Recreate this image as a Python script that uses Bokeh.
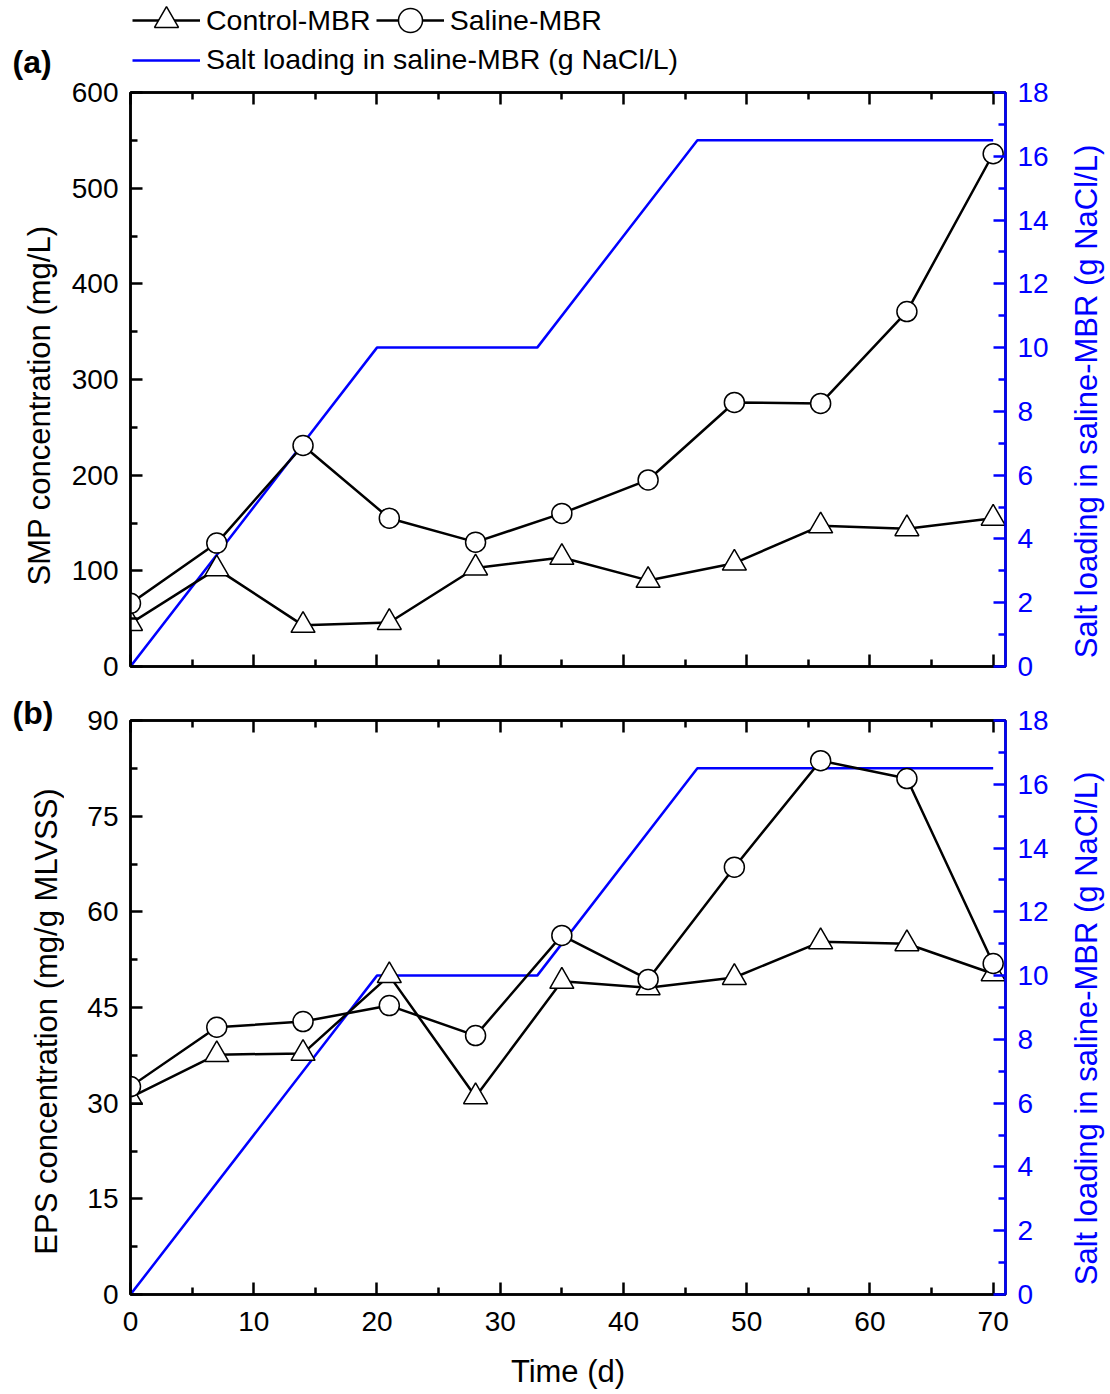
import math
from bokeh.plotting import figure
from bokeh.models import Range1d, LinearAxis, Legend, LegendItem, FixedTicker
from bokeh.layouts import column, row
from bokeh.core.properties import value
from bokeh.embed import file_html
from bokeh.resources import INLINE

# ---- data ----
days = [0, 7, 14, 21, 28, 35, 42, 49, 56, 63, 70]
smp_control = [45, 102, 43, 46, 103, 114, 90, 108, 147, 144, 155]
smp_saline = [66, 129, 231, 155, 130, 160, 195, 276, 275, 371, 536]
eps_control = [30.9, 37.6, 37.8, 50.0, 31.0, 49.1, 48.1, 49.7, 55.3, 55.0, 50.3]
eps_saline = [32.6, 41.9, 42.8, 45.3, 40.6, 56.3, 49.4, 67.0, 83.7, 80.9, 51.9]
salt_days = [0, 20, 33, 46, 70]
salt_load = [0, 10, 10, 16.5, 16.5]

x_ticks = [0, 10, 20, 30, 40, 50, 60, 70]
x_minor = [5, 15, 25, 35, 45, 55, 65]
smp_ticks = [0, 100, 200, 300, 400, 500, 600]
smp_minor = [50, 150, 250, 350, 450, 550]
eps_ticks = [0, 15, 30, 45, 60, 75, 90]
eps_minor = [7.5, 22.5, 37.5, 52.5, 67.5, 82.5]
salt_ticks = [0, 2, 4, 6, 8, 10, 12, 14, 16, 18]
salt_minor = [1, 3, 5, 7, 9, 11, 13, 15, 17]

label_smp = "SMP concentration (mg/L)"
label_eps = "EPS concentration (mg/g MLVSS)"
label_salt = "Salt loading in saline-MBR (g NaCl/L)"
label_time = "Time (d)"
names = ["Control-MBR", "Saline-MBR"]

FONT = "Liberation Sans"
BLUE = "#0000FF"
LW = 2.5
TICK_FS = "28px"
LABEL_FS = "31px"
NAN = [float("nan")]


def bare(width, height, xr, yr):
    f = figure(width=width, height=height, output_backend="svg", toolbar_location=None,
               x_range=Range1d(*xr), y_range=Range1d(*yr),
               min_border_left=0, min_border_right=0, min_border_top=0, min_border_bottom=0,
               x_axis_location=None, y_axis_location=None)
    f.grid.visible = False
    f.outline_line_color = None
    f.background_fill_color = "white"
    f.border_fill_color = "white"
    return f


def style_axis(ax, color="black", labels=True):
    ax.axis_line_color = color
    ax.axis_line_width = LW
    ax.major_tick_line_color = color
    ax.major_tick_line_width = LW
    ax.minor_tick_line_color = color
    ax.minor_tick_line_width = LW
    ax.major_tick_in = 12
    ax.major_tick_out = 0
    ax.minor_tick_in = 7
    ax.minor_tick_out = 0
    ax.major_label_text_font = FONT
    ax.axis_label_text_font = FONT
    ax.axis_label_text_font_style = "normal"
    ax.axis_label_text_color = color
    ax.axis_label_text_font_size = LABEL_FS
    if labels:
        ax.major_label_text_color = color
        ax.major_label_text_font_size = TICK_FS
        ax.major_label_standoff = 12
    else:
        # tick marks only, no tick labels
        ax.major_label_text_color = None
        ax.major_label_text_font_size = "0px"
        ax.major_label_standoff = 0


def make_panel(height, top, bottom, yrange, yticks, yminor, ctrl, sal, show_x):
    p = figure(width=998, height=height, output_backend="svg", toolbar_location=None,
               x_range=Range1d(0, 71), y_range=Range1d(*yrange),
               min_border_left=66, min_border_right=57,
               min_border_top=top, min_border_bottom=bottom,
               x_axis_location=None, y_axis_location=None)
    p.grid.visible = False
    p.outline_line_color = "black"
    p.outline_line_width = LW
    p.background_fill_color = "white"
    p.border_fill_color = "white"
    p.extra_y_ranges = {"salt": Range1d(0, 18)}

    xb = LinearAxis(ticker=FixedTicker(ticks=x_ticks, minor_ticks=x_minor))
    style_axis(xb, labels=show_x)
    if show_x:
        xb.major_label_standoff = 17
        xb.axis_label = label_time
        xb.axis_label_standoff = 20
    p.add_layout(xb, "below")

    xt = LinearAxis(ticker=FixedTicker(ticks=x_ticks, minor_ticks=x_minor))
    style_axis(xt, labels=False)
    p.add_layout(xt, "above")

    yl = LinearAxis(ticker=FixedTicker(ticks=yticks, minor_ticks=yminor))
    style_axis(yl)
    p.add_layout(yl, "left")

    yr = LinearAxis(y_range_name="salt", ticker=FixedTicker(ticks=salt_ticks, minor_ticks=salt_minor))
    style_axis(yr, color=BLUE)
    p.add_layout(yr, "right")

    p.line(salt_days, salt_load, y_range_name="salt", line_color=BLUE, line_width=LW)
    p.line(days, ctrl, line_color="black", line_width=LW)
    p.line(days, sal, line_color="black", line_width=LW)
    p.scatter(days, ctrl, marker="triangle", size=24, fill_color="white",
              line_color="black", line_width=1.5)
    p.scatter(days, sal, marker="circle", size=20, fill_color="white",
              line_color="black", line_width=1.5)
    return p


HEADER_H = 77
pa = make_panel(693 - HEADER_H, 92 - HEADER_H, 27, (0, 600), smp_ticks, smp_minor,
                smp_control, smp_saline, False)
pb = make_panel(701, 27, 100, (0, 90), eps_ticks, eps_minor, eps_control, eps_saline, True)

# ---- header with legend (its frame is aligned with the panels' frames) ----
header = bare(998, HEADER_H, (0, 100), (0, 100))
d_lc = header.line(NAN, NAN, line_color="black", line_width=LW)
d_sc = header.scatter(NAN, NAN, marker="triangle", size=24, fill_color="white",
                      line_color="black", line_width=1.5)
d_ls = header.line(NAN, NAN, line_color="black", line_width=LW)
d_ss = header.scatter(NAN, NAN, marker="circle", size=20, fill_color="white",
                      line_color="black", line_width=1.5)
d_salt = header.line(NAN, NAN, line_color=BLUE, line_width=LW)


def legend_style(lg, gh):
    lg.border_line_color = None
    lg.background_fill_alpha = 0
    lg.padding = 0
    lg.margin = 0
    lg.spacing = 5
    lg.glyph_width = 68
    lg.glyph_height = gh
    lg.label_standoff = 6
    lg.label_text_font = FONT
    lg.label_text_color = "black"
    lg.label_text_font_size = "28.5px"
    lg.label_height = gh


leg1 = Legend(items=[LegendItem(label=names[0], renderers=[d_lc, d_sc]),
                     LegendItem(label=names[1], renderers=[d_ls, d_ss])],
              orientation="horizontal", location=(2, HEADER_H - 50))
legend_style(leg1, 60)
leg2 = Legend(items=[LegendItem(label=label_salt, renderers=[d_salt])],
              orientation="horizontal", location=(2, HEADER_H - 76))
legend_style(leg2, 30)
header.add_layout(leg1, "center")
header.add_layout(leg2, "center")

# ---- left strip: panel letters and axis titles ----
left = bare(64, 1394, (0, 64), (0, 1394))
left.text(x=[12, 12], y=[1333, 682], text=["(a)", "(b)"], text_font=value(FONT),
          text_font_style="bold", text_font_size="32px", text_align="left",
          text_baseline="middle", text_color="black")
left.text(x=[39, 46], y=[989, 373], text=[label_smp, label_eps], text_font=value(FONT),
          text_font_size=LABEL_FS, text_align="center", text_baseline="middle",
          angle=math.pi / 2, text_color="black")

# ---- right strip: salt axis titles ----
right = bare(48, 1394, (0, 48), (0, 1394))
right.text(x=[24, 24], y=[993, 366], text=[label_salt, label_salt], text_font=value(FONT),
           text_font_size=LABEL_FS, text_align="center", text_baseline="middle",
           angle=math.pi / 2, text_color=BLUE)

layout = row(left, column(header, pa, pb, spacing=0), right, spacing=0)
open("out.html", "w").write(file_html(layout, INLINE))
